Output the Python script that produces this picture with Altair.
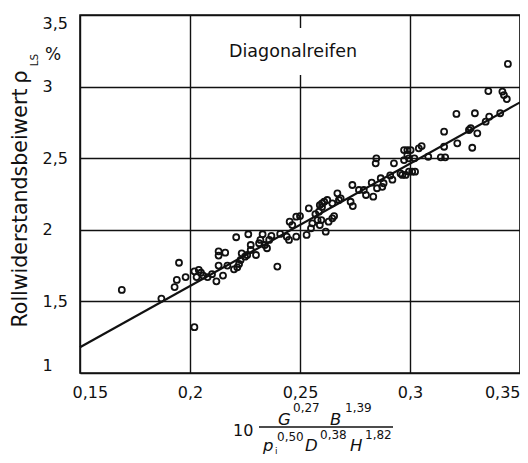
import altair as alt
import pandas as pd

# ---- data ----
x_vals = [0.169, 0.187, 0.195, 0.194, 0.193, 0.198, 0.202, 0.202, 0.204, 0.203,
          0.205, 0.206, 0.208, 0.210, 0.213, 0.213, 0.216, 0.213, 0.217, 0.212,
          0.215, 0.220, 0.2215, 0.2223, 0.223, 0.2235, 0.225, 0.226, 0.2276, 0.2276,
          0.2265, 0.221, 0.230, 0.2314, 0.232, 0.233, 0.234, 0.235, 0.236, 0.237,
          0.2397, 0.241, 0.244, 0.245, 0.2453, 0.2465, 0.2483, 0.2483, 0.250, 0.254,
          0.255, 0.2556, 0.253, 0.257, 0.258, 0.2586, 0.259, 0.260, 0.261, 0.259,
          0.2617, 0.2624, 0.263, 0.2647, 0.2655, 0.2647, 0.267, 0.2677, 0.2685, 0.273,
          0.274, 0.2738, 0.2768, 0.279, 0.280, 0.2826, 0.2833, 0.2844, 0.2847, 0.285,
          0.2927, 0.2867, 0.2874, 0.288, 0.291, 0.292, 0.2957, 0.2973, 0.2988, 0.3003,
          0.2973, 0.2988, 0.2995, 0.2995, 0.301, 0.3023, 0.2965, 0.298, 0.302, 0.304,
          0.3053, 0.3083, 0.314, 0.316, 0.3155, 0.3155, 0.3211, 0.3215, 0.3445, 0.3356,
          0.342, 0.3427, 0.344, 0.3295, 0.341, 0.336, 0.3344, 0.3276, 0.3268, 0.3306,
          0.3283, 0.2600, 0.2597]
y_vals = [1.58, 1.52, 1.77, 1.65, 1.60, 1.67, 1.32, 1.71, 1.72, 1.67,
          1.70, 1.68, 1.67, 1.69, 1.85, 1.82, 1.84, 1.75, 1.75, 1.64,
          1.68, 1.724, 1.738, 1.761, 1.789, 1.836, 1.812, 1.824, 1.859, 1.894,
          1.969, 1.948, 1.824, 1.906, 1.929, 1.969, 1.894, 1.871, 1.929, 1.957,
          1.743, 1.971, 1.952, 1.929, 2.057, 2.033, 2.092, 1.952, 2.096, 2.15,
          2.01, 2.045, 1.964, 2.11, 2.068, 2.126, 2.173, 2.185, 2.196, 2.033,
          1.987, 2.208, 2.057, 2.08, 2.096, 2.185, 2.255, 2.208, 2.22, 2.196,
          2.166, 2.313, 2.278, 2.278, 2.243, 2.329, 2.231, 2.464, 2.499, 2.29,
          2.464, 2.36, 2.30, 2.325, 2.38, 2.35, 2.394, 2.557, 2.557, 2.557,
          2.487, 2.522, 2.499, 2.406, 2.406, 2.406, 2.383, 2.383, 2.499, 2.569,
          2.585, 2.51, 2.506, 2.506, 2.58, 2.685, 2.809, 2.604, 3.158, 2.969,
          2.965, 2.941, 2.913, 2.814, 2.814, 2.79, 2.755, 2.709, 2.697, 2.674,
          2.573, 2.16, 2.068]
line_x = [0.15, 0.35]
line_y = [1.18, 2.89]
x_ticks = [0.15, 0.2, 0.25, 0.3, 0.35]
y_ticks = [1, 1.5, 2, 2.5, 3, 3.5]

INK = "#111111"
FONT = "DejaVu Sans"
W, H = 440, 358

pts = pd.DataFrame({"x": x_vals, "y": y_vals})
reg = pd.DataFrame({"x": line_x, "y": line_y})

label_expr = "replace(format(datum.value, '~g'), '.', ',')"

xs = alt.Scale(domain=[0.15, 0.35], nice=False, zero=False)
ys = alt.Scale(domain=[1, 3.5], nice=False, zero=False)

x_enc = alt.X("x:Q", scale=xs, axis=alt.Axis(
    values=x_ticks, labelExpr=label_expr, title=None, ticks=False, domain=False,
    grid=True, gridColor=INK, gridWidth=1.4, gridOpacity=1,
    labelFont=FONT, labelFontSize=16, labelColor=INK, labelPadding=11,
    labelFlush=True, labelFlushOffset=0,
    labelOffset={"condition": {"test": "datum.value < 0.16", "value": -8}, "value": 0}))
y_enc = alt.Y("y:Q", scale=ys, axis=alt.Axis(
    values=y_ticks, labelExpr=label_expr, title=None, ticks=False, domain=False,
    grid=True, gridColor=INK, gridWidth=1.4, gridOpacity=1,
    labelFont=FONT, labelFontSize=16, labelColor=INK, labelPadding=38,
    labelAlign="left", labelFlush=True))

points = alt.Chart(pts).mark_point(
    shape="circle", filled=False, size=36, strokeWidth=1.8, color=INK, opacity=1
).encode(x=x_enc, y=y_enc)

line = alt.Chart(reg).mark_line(color=INK, strokeWidth=2.2).encode(
    x=alt.X("x:Q", scale=xs), y=alt.Y("y:Q", scale=ys))

one = pd.DataFrame({"a": [0]})


def ann(text, x, y, size, angle=0, italic=False, align="left", baseline="alphabetic"):
    kw = dict(text=text, fontSize=size, font=FONT, color=INK, align=align,
              baseline=baseline, angle=angle)
    if italic:
        kw["fontStyle"] = "italic"
    return alt.Chart(one).mark_text(**kw).encode(x=alt.value(x), y=alt.value(y))


box = alt.Chart(one).mark_rect(color="white", opacity=1).encode(
    x=alt.value(140), x2=alt.value(310), y=alt.value(13), y2=alt.value(60))

frac = alt.Chart(one).mark_rule(color=INK, strokeWidth=1.5).encode(
    x=alt.value(179), x2=alt.value(313), y=alt.value(412))

layers = [
    box, line, points,
    ann("Diagonalreifen", 213, 37, 17.5, align="center", baseline="middle"),
    # y-axis title
    ann("Rollwiderstandsbeiwert", -59, 193, 20.5, angle=270, align="center", baseline="middle"),
    ann("ρ", -59, 62, 21, angle=270, align="center", baseline="middle"),
    ann("LS", -45, 45, 10.5, angle=270, align="center", baseline="middle"),
    ann("%", -27, 40, 17, align="center", baseline="middle"),
    # x-axis title: 10 * G^0.27 B^1.39 / (p_i^0.50 D^0.38 H^1.82)
    ann("10", 153, 416, 16, baseline="middle"),
    frac,
    ann("G", 198, 410, 16.5, italic=True),
    ann("0,27", 213, 397, 12),
    ann("B", 250, 410, 16.5, italic=True),
    ann("1,39", 265, 397, 12),
    ann("p", 183, 436, 16.5, italic=True),
    ann("i", 195, 439, 9),
    ann("0,50", 197, 426, 12),
    ann("D", 225, 436, 16.5, italic=True),
    ann("0,38", 240, 424, 12),
    ann("H", 270, 436, 16.5, italic=True),
    ann("1,82", 285, 424, 12),
]

chart = alt.layer(*layers).properties(
    width=W, height=H,
    autosize=alt.AutoSizeParams(type="none"),
    padding={"left": 72, "top": 7, "right": 0, "bottom": 82},
    background="white",
).configure_view(stroke=INK, strokeWidth=1.6)

chart.save("out.html", embed_options={"renderer": "svg", "actions": False})
